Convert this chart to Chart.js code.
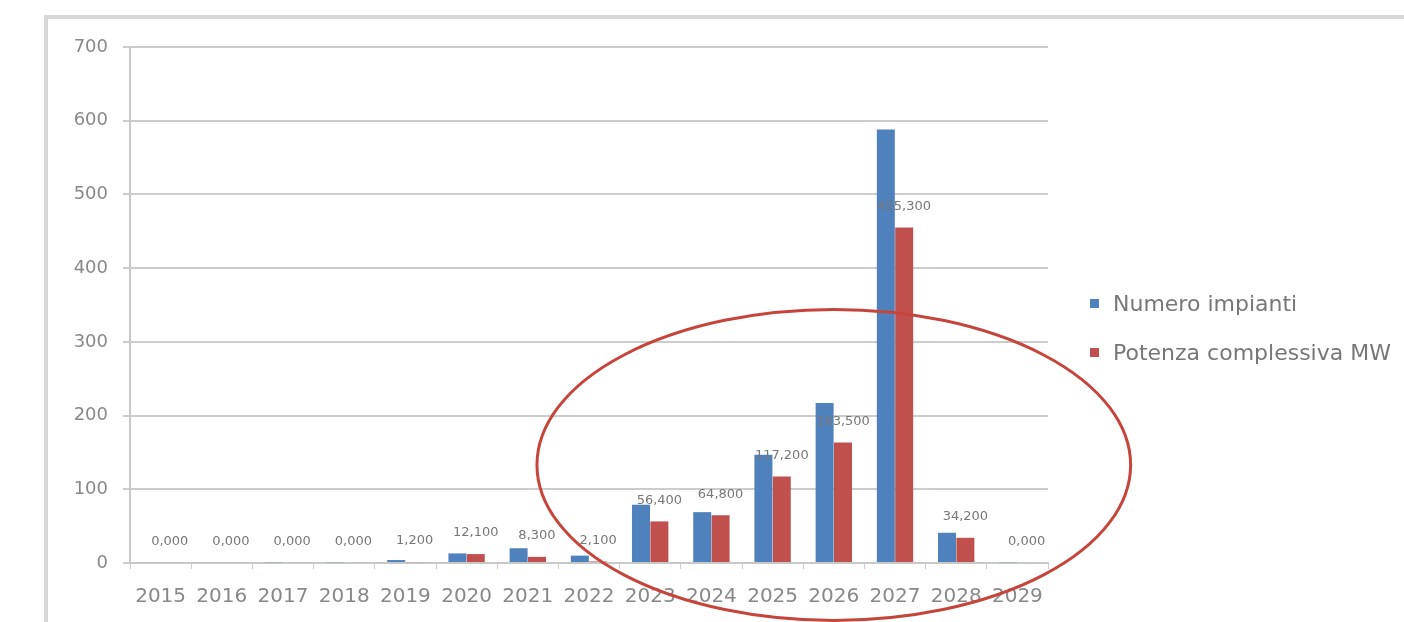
<!DOCTYPE html>
<html lang="it">
<head>
  <meta charset="UTF-8" />
  <title>Impianti per anno</title>
  <script src="https://cdn.jsdelivr.net/npm/chart.js"></script>
  <style>
    body {
      margin: 0;
      background: #fff;
      font-family: "DejaVu Sans", sans-serif;
      overflow: hidden;
    }
    .frame {
      position: absolute;
      left: 44px;
      top: 15px;
      width: 1400px;
      height: 640px;
      border: 4px solid #d8d8d8;
    }
    .wrap {
      position: absolute;
      left: 0;
      top: 0;
      width: 1404px;
      height: 622px;
    }
    .legend {
      position: absolute;
      left: 1090px;
      top: 289px;
      font-size: 22px;
      color: #777;
    }
    .legend div {
      display: flex;
      align-items: center;
      height: 28px;
      margin-bottom: 21px;
      white-space: nowrap;
    }
    .legend span.box {
      width: 9px;
      height: 9px;
      margin-right: 14px;
    }
  </style>
</head>
<body>

<div class="frame"></div>
<div class="wrap"><canvas id="chart"></canvas></div>

<div class="legend">
  <div><span class="box" style="background:#4F81BD"></span>Numero impianti</div>
  <div><span class="box" style="background:#C0504D"></span>Potenza complessiva MW</div>
</div>

<script>
  const anni = ['2015', '2016', '2017', '2018', '2019', '2020', '2021', '2022', '2023', '2024', '2025', '2026', '2027', '2028', '2029'];
  const numeroImpianti = [0, 0, 1, 1, 4, 13, 20, 10, 79, 69, 147, 217, 588, 41, 1];
  const potenzaMW = [0, 0, 0, 0, 1.2, 12.1, 8.3, 2.1, 56.4, 64.8, 117.2, 163.5, 455.3, 34.2, 0];
  const yTicks = [0, 100, 200, 300, 400, 500, 600, 700];

  const fontFamily = '"DejaVu Sans", sans-serif';

  // etichette sopra le barre rosse + cerchio rosso disegnato a mano
  const extras = {
    id: 'extras',
    afterDatasetsDraw(chart) {
      const ctx = chart.ctx;
      const meta = chart.getDatasetMeta(1);
      ctx.save();
      ctx.font = '13px ' + fontFamily;
      ctx.fillStyle = '#777';
      ctx.textAlign = 'center';
      ctx.textBaseline = 'middle';
      meta.data.forEach((bar, i) => {
        const txt = potenzaMW[i].toLocaleString('it-IT', { minimumFractionDigits: 3, maximumFractionDigits: 3 });
        ctx.fillText(txt, bar.x, bar.y - 21);
      });

      const x = chart.scales.x, y = chart.scales.y;
      const cx = x.getPixelForValue(11);
      const cy = y.getPixelForValue(133);
      const rx = x.getPixelForValue(11) - x.getPixelForValue(6.15);
      const ry = y.getPixelForValue(0) - y.getPixelForValue(211);
      ctx.strokeStyle = '#C6453A';
      ctx.lineWidth = 3;
      ctx.beginPath();
      ctx.ellipse(cx, cy, rx, ry, 0, 0, Math.PI * 2);
      ctx.stroke();
      ctx.restore();
    }
  };

  new Chart(document.getElementById('chart'), {
    type: 'bar',
    data: {
      labels: anni,
      datasets: [{
        label: 'Numero impianti',
        data: numeroImpianti,
        backgroundColor: '#4F81BD'
      }, {
        label: 'Potenza complessiva MW',
        data: potenzaMW,
        backgroundColor: '#C0504D'
      }]
    },
    options: {
      responsive: true,
      maintainAspectRatio: false,
      animation: false,
      layout: {
        padding: { left: 0, right: 356, top: 47, bottom: 12 }
      },
      datasets: {
        bar: { categoryPercentage: 0.6, barPercentage: 0.98 }
      },
      scales: {
        x: {
          afterFit(scale) { scale.height = 47; },
          grid: { display: true, drawOnChartArea: false, offset: true, tickLength: 6, color: '#cfcfcf' },
          border: { color: '#c8c8c8', width: 2 },
          ticks: {
            color: '#888',
            maxRotation: 0,
            autoSkip: false,
            padding: 16,
            font: { family: fontFamily, size: 20 }
          }
        },
        y: {
          min: 0,
          max: 700,
          afterFit(scale) { scale.width = 130; },
          afterBuildTicks(scale) { scale.ticks = yTicks.map(v => ({ value: v })); },
          grid: { color: '#cccccc', lineWidth: 2, tickLength: 7 },
          border: { color: '#c8c8c8', width: 2 },
          ticks: {
            color: '#888',
            padding: 15,
            font: { family: fontFamily, size: 18 }
          }
        }
      },
      plugins: {
        legend: { display: false },
        tooltip: { enabled: false }
      }
    },
    plugins: [extras]
  });
</script>

</body>
</html>
